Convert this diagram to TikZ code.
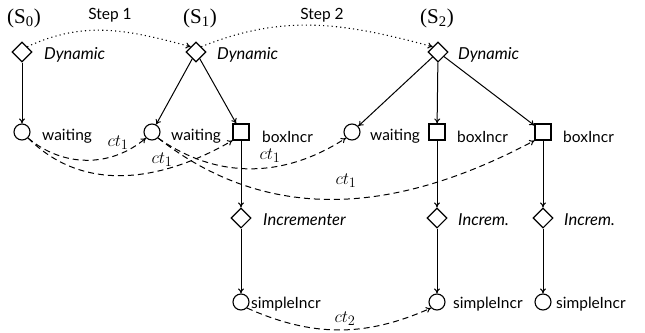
\documentclass[tikz,border=0pt]{standalone}
\usepackage[no-math]{fontspec}
\setmainfont{Lato}
\newfontfamily\statefont{Liberation Serif}
\usetikzlibrary{shapes.geometric,arrows.meta}

\begin{document}
\begin{tikzpicture}[x=1pt,y=-1pt,
  every node/.style={font=\fontsize{15.5}{18}\selectfont},
  dia/.style={draw,diamond,minimum width=20pt,minimum height=20pt,inner sep=0pt,line width=1.1pt},
  circ/.style={draw,circle,minimum size=16pt,inner sep=0pt,line width=1.1pt},
  box/.style={draw,rectangle,minimum size=16pt,inner sep=0pt,line width=1.1pt},
  lbl/.style={anchor=base west,inner sep=0pt},
  ilbl/.style={lbl,font=\fontsize{16.5}{20}\selectfont\itshape},
  ctl/.style={font=\fontsize{19}{22}\selectfont,inner sep=0pt},
  state/.style={font=\fontsize{21}{25}\selectfont\statefont,inner sep=0pt},
  edge/.style={-{To[length=5pt,width=6pt]},line width=1pt},
  trans/.style={edge,dash pattern=on 6pt off 4pt},
  stepline/.style={edge,line width=1.1pt,dash pattern=on 1.1pt off 3.2pt},
]
\useasboundingbox (0,0) rectangle (645,332);

% state headings
\node[state] (s0) at (24,18) {(S\textsubscript{0})};
\node[state] (s1) at (200,18) {(S\textsubscript{1})};
\node[state] (s2) at (437,18) {(S\textsubscript{2})};

% S0
\node[dia] (d0) at (22,52) {};
\node[ilbl] (d0l) at (44,59) {Dynamic};
\node[circ] (w0) at (22,132) {};
\node[lbl] (w0l) at (42,140) {waiting};

% S1
\node[dia] (d1) at (196,52) {};
\node[ilbl] (d1l) at (217,59) {Dynamic};
\node[circ] (w1) at (152,132) {};
\node[lbl] (w1l) at (171,140) {waiting};
\node[box] (b1) at (241,132) {};
\node[lbl] (b1l) at (262,142) {boxIncr};
\node[dia] (i1) at (241,218) {};
\node[ilbl] (i1l) at (263,225) {Incrementer};
\node[circ] (p1) at (241,302) {};
\node[lbl] (p1l) at (251,308) {simpleIncr};

% S2
\node[dia] (d2) at (438,52) {};
\node[ilbl] (d2l) at (458,59) {Dynamic};
\node[circ] (w2) at (352,132) {};
\node[lbl] (w2l) at (370,140) {waiting};
\node[box] (b2) at (437,132) {};
\node[lbl] (b2l) at (457,142) {boxIncr};
\node[box] (b3) at (543,132) {};
\node[lbl] (b3l) at (563,142) {boxIncr};
\node[dia] (i2) at (437,218) {};
\node[ilbl] (i2l) at (458,225) {Increm.};
\node[dia] (i3) at (543,218) {};
\node[ilbl] (i3l) at (564,225) {Increm.};
\node[circ] (p2) at (437,302) {};
\node[lbl] (p2l) at (453,308) {simpleIncr};
\node[circ] (p3) at (543,302) {};
\node[lbl] (p3l) at (556,308) {simpleIncr};

% structure
\draw[edge] (d0) -- (w0);
\draw[edge] (d1) -- (w1);
\draw[edge] (d1) -- (b1);
\draw[edge] (b1) -- (i1);
\draw[edge] (i1) -- (p1);
\draw[edge] (d2) -- (w2);
\draw[edge] (d2) -- (b2);
\draw[edge] (d2) -- (b3);
\draw[edge] (b2) -- (i2);
\draw[edge] (i2) -- (p2);
\draw[edge] (b3) -- (i3);
\draw[edge] (i3) -- (p3);

% steps
\draw[stepline] (d0.north east) to[out=25,in=165] (d1.north west);
\node (st1) at (110,15) {Step 1};
\draw[stepline] (d1.north east) to[out=22,in=165] (d2.north west);
\node (st2) at (322,15) {Step 2};

% transitions
\draw[trans] (w0.south east) to[out=-40,in=-140] (w1.south west);
\node[ctl] (c1) at (118,143) {$ct_1$};
\draw[trans] (w0.south east) to[out=-45,in=-150] (b1.south west);
\node[ctl] (c2) at (162,160) {$ct_1$};
\draw[trans] (w1.south east) to[out=-35,in=-147] (w2.south west);
\node[ctl] (c3) at (270,156) {$ct_1$};
\draw[trans] (w1.south east) to[out=-38,in=-152] (b3.south west);
\node[ctl] (c4) at (346,181) {$ct_1$};
\draw[trans] (p1.south east) to[out=-24,in=-156] (p2.south west);
\node[ctl] (c5) at (345,319) {$ct_2$};
\end{tikzpicture}
\end{document}
